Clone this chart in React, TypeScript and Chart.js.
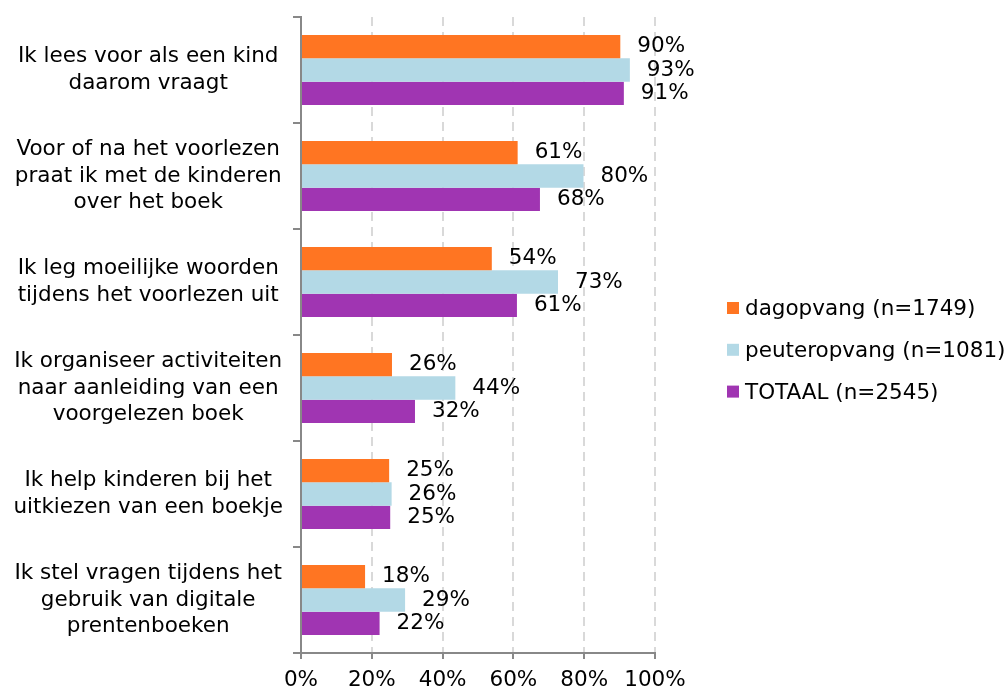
import React, { useEffect, useRef } from "react";
import { Chart, registerables } from "chart.js";

Chart.register(...registerables);

const categories: string[][] = [
  ["Ik lees voor als een kind", "daarom vraagt"],
  ["Voor of na het voorlezen", "praat ik met de kinderen", "over het boek"],
  ["Ik leg moeilijke woorden", "tijdens het voorlezen uit"],
  ["Ik organiseer activiteiten", "naar aanleiding van een", "voorgelezen boek"],
  ["Ik help kinderen bij het", "uitkiezen van een boekje"],
  ["Ik stel vragen tijdens het", "gebruik van digitale", "prentenboeken"],
];

const seriesNames = ["dagopvang (n=1749)", "peuteropvang (n=1081)", "TOTAAL (n=2545)"];
const dagopvang = [90.2, 61.2, 53.9, 25.7, 24.9, 18.1];
const peuteropvang = [92.9, 79.8, 72.6, 43.6, 25.6, 29.4];
const totaal = [91.2, 67.5, 61.0, 32.2, 25.2, 22.2];
const xTicks = [0, 20, 40, 60, 80, 100];

const colors = ["#FF7522", "#B3D9E6", "#A035B2"];
const FONT = "DejaVu Sans";
const FS = 21.5;

const labelPlugin = {
  id: "valueLabels",
  afterDatasetsDraw(chart: any) {
    const ctx = chart.ctx;
    ctx.save();
    ctx.font = `${FS}px "${FONT}"`;
    ctx.fillStyle = "#000";
    ctx.textAlign = "left";
    ctx.textBaseline = "middle";
    chart.data.datasets.forEach((ds: any, i: number) => {
      const meta = chart.getDatasetMeta(i);
      meta.data.forEach((el: any, j: number) => {
        ctx.fillText(Math.round(ds.data[j]) + "%", el.x + 17, el.y);
      });
    });
    ctx.restore();
  },
};

const legendPlugin = {
  id: "customLegend",
  afterDraw(chart: any) {
    const ctx = chart.ctx;
    ctx.save();
    ctx.font = `${FS}px "${FONT}"`;
    ctx.textAlign = "left";
    ctx.textBaseline = "alphabetic";
    chart.data.datasets.forEach((ds: any, i: number) => {
      const cy = 308 + i * 41.8;
      ctx.fillStyle = ds.backgroundColor;
      ctx.fillRect(727, cy - 6, 12, 12);
      ctx.fillStyle = "#000";
      ctx.fillText(ds.label, 745, cy + 7);
    });
    ctx.restore();
  },
};

export default function App() {
  const ref = useRef<HTMLCanvasElement>(null);
  useEffect(() => {
    if (!ref.current) return;
    const chart = new Chart(ref.current, {
      type: "bar",
      data: {
        labels: categories,
        datasets: [
          { label: seriesNames[0], data: dagopvang, backgroundColor: colors[0] },
          { label: seriesNames[1], data: peuteropvang, backgroundColor: colors[1] },
          { label: seriesNames[2], data: totaal, backgroundColor: colors[2] },
        ],
      },
      options: {
        indexAxis: "y",
        responsive: false,
        animation: false,
        devicePixelRatio: 1,
        layout: { padding: { top: 17, right: 351, left: 0, bottom: 0 } },
        datasets: { bar: { categoryPercentage: 0.66, barPercentage: 1 } },
        plugins: { legend: { display: false }, tooltip: { enabled: false } },
        scales: {
          x: {
            min: 0,
            max: 100,
            afterBuildTicks: (scale: any) => {
              scale.ticks = xTicks.map((v) => ({ value: v }));
            },
            afterFit: (scale: any) => {
              scale.height = 37;
              scale.paddingLeft = 0;
              scale.paddingRight = 0;
            },
            ticks: {
              callback: (v: any) => v + "%",
              font: { family: FONT, size: FS },
              color: "#000",
              padding: 9,
              maxRotation: 0,
            },
            grid: {
              color: "#d9d9d9",
              lineWidth: 2,
              drawTicks: true,
              tickLength: 6,
              tickColor: "#888",
              tickWidth: 2,
            },
            border: { display: true, color: "#888", width: 2, dash: [9, 6] },
          },
          y: {
            afterFit: (scale: any) => {
              scale.width = 301;
              scale.paddingTop = 0;
              scale.paddingBottom = 0;
            },
            ticks: {
              font: { family: FONT, size: FS, lineHeight: 1.22 },
              color: "#000",
              crossAlign: "center",
              padding: 10,
            },
            grid: {
              offset: true,
              drawOnChartArea: false,
              drawTicks: true,
              tickLength: 8,
              color: "#888",
              lineWidth: 2,
            },
            border: { display: true, color: "#888", width: 2 },
          },
        },
      },
      plugins: [labelPlugin, legendPlugin],
    } as any);
    return () => chart.destroy();
  }, []);
  return (
    <div style={{ position: "fixed", left: 0, top: 0, width: 1006, height: 690, background: "#fff" }}>
      <canvas ref={ref} width={1006} height={690} />
    </div>
  );
}
